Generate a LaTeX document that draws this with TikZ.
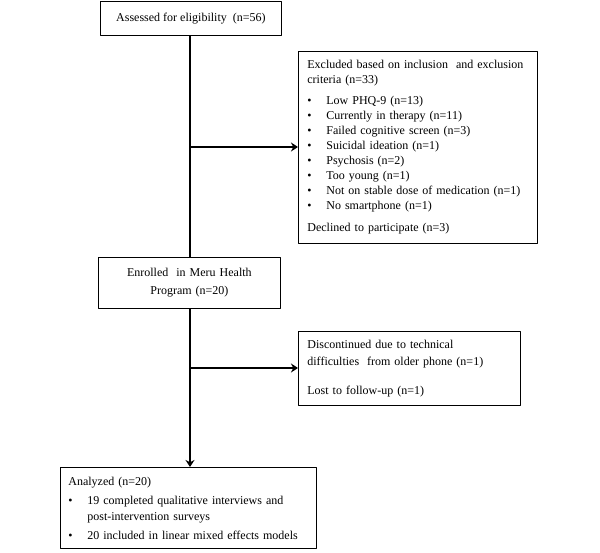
\documentclass[tikz,border=0pt]{standalone}
\usepackage{fontspec}
\setmainfont{Liberation Serif}
\usetikzlibrary{calc,arrows.meta}
\newcommand{\itm}[1]{\makebox[19pt][l]{\textbullet}\mbox{#1}}
\begin{document}
\begin{tikzpicture}[x=1pt, y=1pt, line join=round, line cap=round, >=stealth,
	box/.style={draw, line width=0.8pt, inner xsep=9pt, inner ysep=0pt,
		font=\fontsize{12}{15}\selectfont},
	link/.style={line width=1.3pt},
	tip/.style={line width=1.3pt, -{Stealth[length=7pt,width=9pt]}}]

	\useasboundingbox (0,0) rectangle (600,-553);

	\node[box, anchor=north west, minimum width=181pt, minimum height=34pt, align=center] (elig) at (100,-1) {Assessed for eligibility~ (n=56)};

	\node[box, anchor=north west, text width=221pt, minimum height=192pt, align=left] (excl) at (298,-51) {\mbox{Excluded based on inclusion~ and exclusion}\\ criteria (n=33)\\[6pt]
		\itm{Low PHQ-9 (n=13)}\\
		\itm{Currently in therapy (n=11)}\\
		\itm{Failed cognitive screen (n=3)}\\
		\itm{Suicidal ideation (n=1)}\\
		\itm{Psychosis (n=2)}\\
		\itm{Too young (n=1)}\\
		\itm{Not on stable dose of medication (n=1)}\\
		\itm{No smartphone (n=1)}\\[7pt]
		Declined to participate (n=3)};

	\node[box, anchor=north west, text width=164pt, minimum height=51pt, align=center,
		font=\fontsize{12}{18}\selectfont] (enrol) at (98,-257) {Enrolled~ in Meru Health\\ Program (n=20)};

	\node[box, anchor=north west, text width=204pt, minimum height=74pt, align=left,
		font=\fontsize{12}{17}\selectfont] (lost) at (298,-331) {Discontinued due to technical\\ \mbox{difficulties~ from older phone (n=1)}\\[12pt]
		Lost to follow-up (n=1)};

	\node[box, anchor=north west, inner xsep=8pt, text width=240pt, minimum height=81pt, align=left,
		font=\fontsize{12}{17}\selectfont] (anal) at (60,-467) {Analyzed (n=20)\\[2pt]
		\itm{19 completed qualitative interviews and}\\[-1pt]
		\hspace*{19pt}post-intervention surveys\\[2pt]
		\itm{20 included in linear mixed effects models}};

	\coordinate (s1) at (190,-147);
	\coordinate (s2) at (190,-368);

	\draw[link] (elig.south -| s1) -- (enrol.north -| s1);
	\draw[tip] (enrol.south -| s1) -- (anal.north -| s1);
	\draw[tip] (s1) -- (excl.west |- s1);
	\draw[tip] (s2) -- (lost.west |- s2);

\end{tikzpicture}
\end{document}
